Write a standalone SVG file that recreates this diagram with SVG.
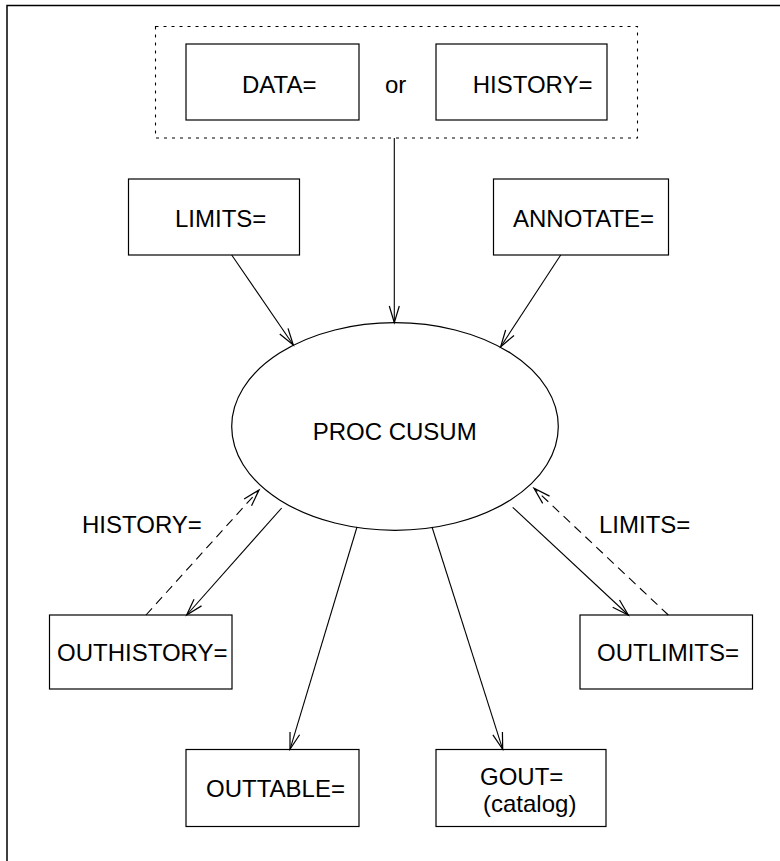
<svg xmlns="http://www.w3.org/2000/svg" width="780" height="861" viewBox="0 0 780 861">
<style>
.box{fill:none;stroke:#000;stroke-width:1.2}
.t{font-family:"Liberation Sans",Arial,sans-serif;font-size:24px;fill:#000}
.c{fill:none;stroke:#000;stroke-width:1.1}
.d{stroke-dasharray:9 6}
</style>
<defs>
<marker id="ah" markerUnits="userSpaceOnUse" markerWidth="20" markerHeight="20" refX="0" refY="0" viewBox="-16 -8 18 16" orient="auto">
<path d="M -15 -4.5 L 0 0 L -15 4.5" fill="none" stroke="#000" stroke-width="1.1"/>
</marker>
</defs>
<rect x="0" y="0" width="780" height="861" fill="#fff"/>
<rect x="7" y="5.5" width="800" height="900" fill="none" stroke="#000" stroke-width="1.5"/>
<g id="input-group">
<rect x="155.5" y="26.5" width="482" height="111.5" fill="none" stroke="#000" stroke-width="1.1" stroke-dasharray="3 5"/>
<text class="t" x="385" y="93">or</text>
</g>
<g id="data"><rect class="box" x="186" y="44" width="173" height="76"/><text class="t" x="242" y="93">DATA=</text></g>
<g id="history"><rect class="box" x="436" y="44" width="171" height="76"/><text class="t" x="472.7" y="93">HISTORY=</text></g>
<g id="limits"><rect class="box" x="128.5" y="179" width="171" height="76"/><text class="t" x="175" y="227">LIMITS=</text></g>
<g id="annotate"><rect class="box" x="493.5" y="179" width="175" height="76"/><text class="t" x="513" y="227">ANNOTATE=</text></g>
<g id="proc"><ellipse cx="395" cy="426.5" rx="163.3" ry="103.8" fill="none" stroke="#000" stroke-width="1.2"/><text class="t" x="312.7" y="439.5">PROC CUSUM</text></g>
<g id="outhistory"><rect class="box" x="49.5" y="615" width="182.5" height="74"/><text class="t" x="57" y="661">OUTHISTORY=</text></g>
<g id="outlimits"><rect class="box" x="580" y="615" width="172.5" height="74"/><text class="t" x="597" y="661">OUTLIMITS=</text></g>
<g id="outtable"><rect class="box" x="186" y="749.5" width="173" height="77"/><text class="t" x="206" y="797">OUTTABLE=</text></g>
<g id="gout"><rect class="box" x="436" y="749.5" width="170" height="77"/><text class="t" x="480" y="785">GOUT=</text><text class="t" x="483" y="812">(catalog)</text></g>
<g id="connectors">
<line class="c" x1="394.3" y1="138" x2="394.3" y2="322.7" marker-end="url(#ah)"/>
<line class="c" x1="231.7" y1="255" x2="293.3" y2="345" marker-end="url(#ah)"/>
<line class="c" x1="560.7" y1="255" x2="500.7" y2="346.7" marker-end="url(#ah)"/>
<line class="c" x1="281.7" y1="508" x2="186.7" y2="615" marker-end="url(#ah)"/>
<line class="c d" x1="146" y1="615" x2="259" y2="490" marker-end="url(#ah)"/>
<line class="c" x1="512.7" y1="507.3" x2="628.3" y2="615" marker-end="url(#ah)"/>
<line class="c d" x1="668.3" y1="615" x2="534" y2="488.3" marker-end="url(#ah)"/>
<line class="c" x1="357" y1="527" x2="290" y2="749.3" marker-end="url(#ah)"/>
<line class="c" x1="432" y1="527" x2="502.7" y2="749.3" marker-end="url(#ah)"/>
<text class="t" x="82" y="533">HISTORY=</text>
<text class="t" x="599" y="533">LIMITS=</text>
</g>
</svg>
